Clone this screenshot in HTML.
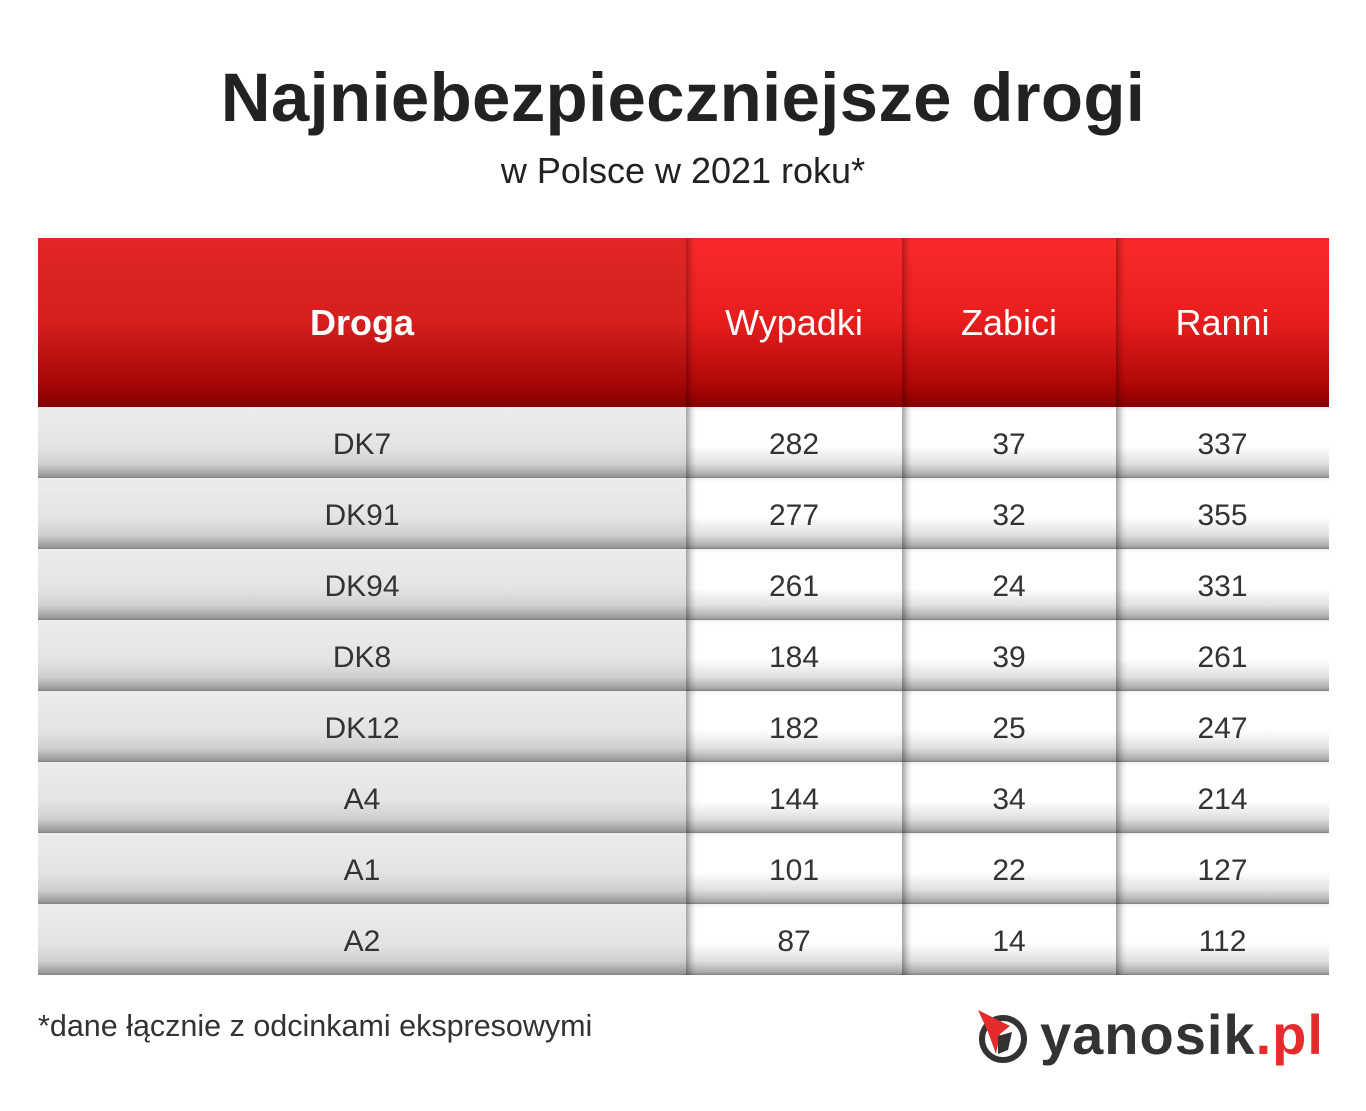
<!DOCTYPE html>
<html><head><meta charset="utf-8"><style>
body{margin:0;width:1366px;height:1111px;background:#fff;font-family:"Liberation Sans",sans-serif;position:relative;overflow:hidden}
.t{position:absolute;left:0;width:1366px;text-align:center;color:#222}
.cell{position:absolute;display:flex;align-items:center;justify-content:center;box-sizing:border-box}
.h{top:238px;height:169px;color:#fff;font-size:36px;background:linear-gradient(#fb2a2a 0%,#e71d1d 50%,#b30808 85%,#8a0000 100%);box-shadow:inset 6px 0 8px -4px rgba(0,0,0,.45)}
.h0{background:linear-gradient(#e02626 0%,#d61f1f 50%,#a80808 85%,#850000 100%);box-shadow:none}
.r{height:71px;padding-top:4px;font-size:30px;color:#333;background:linear-gradient(#fff 0%,#fff 55%,#e0e0e0 80%,#a8a8a8 97%,#888 100%);box-shadow:inset 7px 0 8px -4px rgba(0,0,0,.45)}
.r0{background:linear-gradient(#ececec 0%,#e4e4e4 55%,#d0d0d0 80%,#9a9a9a 97%,#808080 100%);box-shadow:none}
</style></head><body>
<div class="t" style="top:58px;font-size:69px;font-weight:bold;color:#222;letter-spacing:0.3px">Najniebezpieczniejsze drogi</div>
<div class="t" style="top:150px;font-size:36px">w Polsce w 2021 roku*</div>
<div class="cell h h0" style="left:38px;width:648px;font-weight:bold">Droga</div>
<div class="cell h" style="left:686px;width:216px">Wypadki</div>
<div class="cell h" style="left:902px;width:214px">Zabici</div>
<div class="cell h" style="left:1116px;width:213px">Ranni</div>
<div id="rows"></div>
<div style="position:absolute;left:38px;top:1009px;font-size:30.5px;color:#333">*dane łącznie z odcinkami ekspresowymi</div>
<svg style="position:absolute;left:976px;top:1008px" width="56" height="58" viewBox="0 0 56 58">
<circle cx="27" cy="31" r="21" fill="none" stroke="#333" stroke-width="6"/>
<polygon points="2,2 34,18 24,26 20,46 12,24" fill="#e52b2b"/>
<polygon points="22,28 36,24 32,42 22,46" fill="#333"/>
</svg>
<div style="position:absolute;left:1040px;top:1002px;font-size:56px;font-weight:bold;color:#333;letter-spacing:1px">yanosik<span style="color:#e52b2b">.pl</span></div>
<script>
var d=[["DK7",282,37,337],["DK91",277,32,355],["DK94",261,24,331],["DK8",184,39,261],["DK12",182,25,247],["A4",144,34,214],["A1",101,22,127],["A2",87,14,112]];
var L=[38,686,902,1116],W=[648,216,214,213],h="";
d.forEach(function(r,i){var y=407+i*71;r.forEach(function(v,j){h+='<div class="cell r'+(j==0?' r0':'')+'" style="top:'+y+'px;left:'+L[j]+'px;width:'+W[j]+'px">'+v+'</div>'})});
document.getElementById('rows').innerHTML=h;
</script>
</body></html>
